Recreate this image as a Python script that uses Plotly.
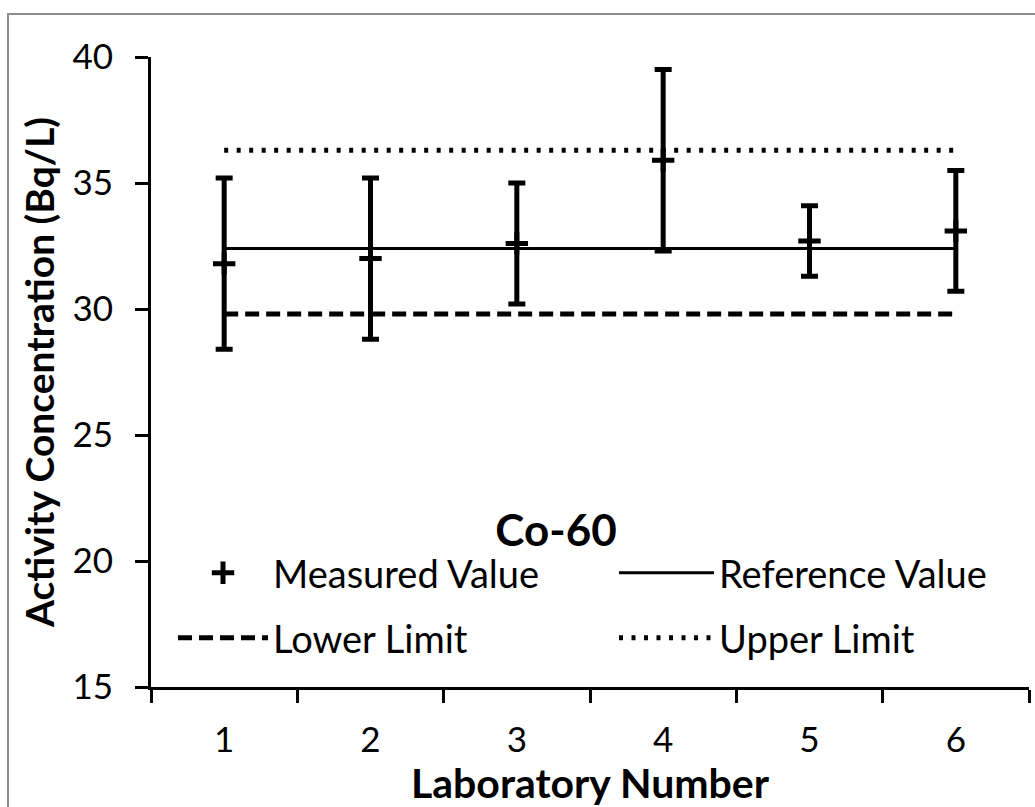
import plotly.graph_objects as go

# Laboratory intercomparison results for Co-60
labs = ["1", "2", "3", "4", "5", "6"]
measured = [31.8, 32.0, 32.6, 35.9, 32.7, 33.1]
uncertainty = [3.4, 3.2, 2.4, 3.6, 1.4, 2.4]
reference_value = 32.4
lower_limit = 29.8
upper_limit = 36.3
y_ticks = [15, 20, 25, 30, 35, 40]

FONT = "Lato"
n = len(labs)

fig = go.Figure()

fig.add_trace(go.Scatter(
    x=labs, y=measured, mode="markers", name="Measured Value", legend="legend",
    marker=dict(symbol="cross-thin", size=16, color="black",
                line=dict(color="black", width=5)),
    error_y=dict(type="data", array=uncertainty, visible=True,
                 color="black", thickness=5, width=8.5),
))
fig.add_trace(go.Scatter(
    x=labs, y=[reference_value] * n, mode="lines", name="Reference Value",
    legend="legend2", line=dict(color="black", width=3),
))
fig.add_trace(go.Scatter(
    x=labs, y=[lower_limit] * n, mode="lines", name="Lower Limit",
    legend="legend3", line=dict(color="black", width=5, dash="14px,7px"),
))
fig.add_trace(go.Scatter(
    x=labs, y=[upper_limit] * n, mode="lines", name="Upper Limit",
    legend="legend4", line=dict(color="black", width=5, dash="4px,8.5px"),
))

# Chart frame
fig.add_shape(type="rect", xref="paper", yref="paper",
              x0=(8 - 151) / 878, x1=(1045 - 151) / 878,
              y0=(687 - 820) / 630, y1=(687 - 14) / 630,
              line=dict(color="#8c8c8c", width=2), layer="below")


def legend_box(px, py, item_w):
    """One legend entry placed at a pixel position inside the plot area."""
    return dict(orientation="h", xanchor="left", yanchor="middle",
                x=(px - 151) / 878, y=(687 - py) / 630,
                itemwidth=item_w, bgcolor="rgba(0,0,0,0)",
                font=dict(size=38, family=FONT, color="black"))


fig.update_layout(
    width=1035, height=807,
    margin=dict(l=151, r=6, t=57, b=120),
    paper_bgcolor="white", plot_bgcolor="white",
    font=dict(family=FONT, color="black", size=37),
    title=dict(text="<b>Co-60</b>", x=(556 / 1035), xanchor="center",
               y=1 - 531 / 807, yanchor="middle",
               font=dict(family=FONT, size=44, color="black")),
    showlegend=True,
    legend=legend_box(173, 573, 90),
    legend2=legend_box(614, 573, 95),
    legend3=legend_box(173, 638, 90),
    legend4=legend_box(614, 638, 95),
    xaxis=dict(type="category", range=[-0.5, n - 0.5], tickson="boundaries",
               showline=True, linecolor="black", linewidth=3,
               ticks="outside", ticklen=13, tickwidth=3, tickcolor="black",
               showgrid=False, zeroline=False,
               tickfont=dict(size=35, family=FONT), ticklabelstandoff=20,
               title=dict(text="<b>Laboratory Number</b>", standoff=6,
                          font=dict(size=41, family=FONT))),
    yaxis=dict(range=[15, 40], tickvals=y_ticks,
               showline=True, linecolor="black", linewidth=3,
               ticks="outside", ticklen=13, tickwidth=3, tickcolor="black",
               showgrid=False, zeroline=False,
               tickfont=dict(size=35, family=FONT), ticklabelstandoff=15,
               title=dict(text="<b>Activity Concentration (Bq/L)</b>",
                          standoff=6, font=dict(size=39, family=FONT))),
)

fig.write_html("out.html")
